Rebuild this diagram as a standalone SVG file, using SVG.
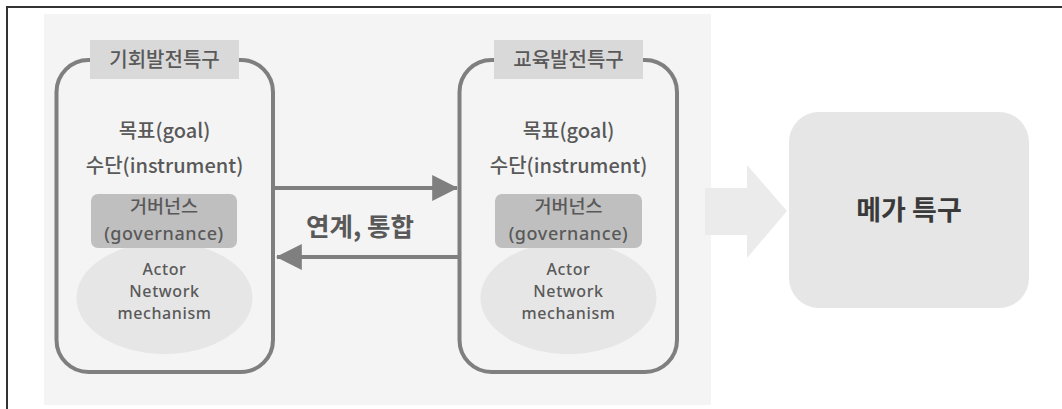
<svg xmlns="http://www.w3.org/2000/svg" width="1062" height="409" viewBox="0 0 1062 409">
<style>
.t{font-family:"Noto Sans CJK KR","Noto Sans",sans-serif;fill:#595959;text-anchor:middle}
.zone{fill:none;stroke:#7f7f7f;stroke-width:4}
.lbl{fill:#d9d9d9}
.gov{fill:#bfbfbf}
.ell{fill:#e6e6e6}
.m{font-size:20px;font-weight:500}
.g1{font-size:18.5px;font-weight:500}
.g2{font-family:"Noto Sans",sans-serif;font-size:18px;font-weight:500;letter-spacing:0.6px}
.s{font-family:"Noto Sans",sans-serif;font-size:16px;font-weight:500;letter-spacing:0.6px}
</style>
<defs>
<marker id="ah" markerWidth="6.5" markerHeight="6.5" refX="6.2" refY="3.25" orient="auto" markerUnits="strokeWidth"><path d="M0,0 L6.5,3.25 L0,6.5 Z" fill="#7f7f7f"/></marker>
</defs>
<rect width="1062" height="409" fill="#ffffff"/>
<path d="M7,409 V7 H1062" fill="none" stroke="#333333" stroke-width="2"/>
<rect x="44" y="14" width="667" height="391" fill="#f4f4f4"/>
<g id="connectors">
<path d="M705,188 H747 V165 L787,211 L747,258 V235 H705 Z" fill="#ebebeb"/>
<line x1="275" y1="188" x2="457" y2="188" stroke="#7f7f7f" stroke-width="4" marker-end="url(#ah)"/>
<line x1="458" y1="257" x2="277" y2="257" stroke="#7f7f7f" stroke-width="4" marker-end="url(#ah)"/>
<text x="360" y="236" class="t" style="font-size:25.5px;font-weight:700">연계, 통합</text>
</g>
<g id="zone-left">
<rect x="56.5" y="60" width="216.5" height="312" rx="32" class="zone"/>
<rect x="90" y="40" width="149" height="39" class="lbl"/>
<text x="164.5" y="67" class="t" style="font-size:20px;font-weight:500">기회발전특구</text>
<text x="164.5" y="138" class="t m">목표(goal)</text>
<text x="164.5" y="173" class="t m">수단(instrument)</text>
<ellipse cx="164.5" cy="298" rx="88" ry="56" class="ell"/>
<rect x="91" y="194" width="146" height="54" rx="7" class="gov"/>
<text x="164" y="213" class="t g1">거버넌스</text>
<text x="164" y="240" class="t g2">(governance)</text>
<text x="164.5" y="275" class="t s">Actor</text>
<text x="164.5" y="297" class="t s">Network</text>
<text x="164.5" y="319" class="t s">mechanism</text>
</g>
<g id="zone-right">
<rect x="459.5" y="60" width="217.5" height="312" rx="32" class="zone"/>
<rect x="494" y="40" width="149" height="39" class="lbl"/>
<text x="568.5" y="67" class="t" style="font-size:20px;font-weight:500">교육발전특구</text>
<text x="568.5" y="138" class="t m">목표(goal)</text>
<text x="568.5" y="173" class="t m">수단(instrument)</text>
<ellipse cx="568.5" cy="298" rx="88" ry="56" class="ell"/>
<rect x="495" y="194" width="147" height="54" rx="7" class="gov"/>
<text x="568.5" y="213" class="t g1">거버넌스</text>
<text x="568.5" y="240" class="t g2">(governance)</text>
<text x="568.5" y="275" class="t s">Actor</text>
<text x="568.5" y="297" class="t s">Network</text>
<text x="568.5" y="319" class="t s">mechanism</text>
</g>
<g id="mega">
<rect x="789" y="112" width="240" height="196" rx="30" fill="#e6e6e6"/>
<text x="909" y="220" class="t" style="font-size:27px;font-weight:700;fill:#3a3a3a">메가 특구</text>
</g>
</svg>
